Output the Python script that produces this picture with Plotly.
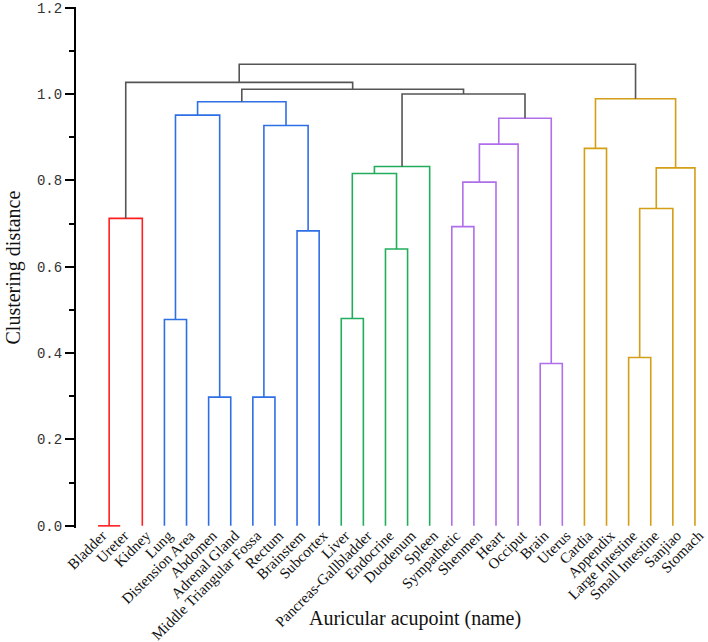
import plotly.graph_objects as go

leaves = ["Bladder", "Ureter", "Kidney", "Lung", "Distension Area", "Abdomen",
          "Adrenal Gland", "Middle Triangular Fossa", "Rectum", "Brainstem",
          "Subcortex", "Liver", "Pancreas-Gallbladder", "Endocrine", "Duodenum",
          "Spleen", "Sympathetic", "Shenmen", "Heart", "Occiput", "Brain", "Uterus",
          "Cardia", "Appendix", "Large Intestine", "Small Intestine", "Sanjiao",
          "Stomach"]

# merges: (left node, right node, height, cluster colour key); new node ids start at 28
merge_left = [0, 28, 3, 5, 7, 9, 30, 32, 34, 11, 13, 37, 39, 16, 41, 42, 20, 43,
              22, 24, 47, 48, 46, 40, 36, 29, 53]
merge_right = [1, 2, 4, 6, 8, 10, 31, 33, 35, 12, 14, 38, 15, 17, 18, 19, 21, 44,
               23, 25, 26, 27, 49, 45, 51, 52, 50]
merge_height = [0.000, 0.712, 0.478, 0.298, 0.298, 0.683, 0.951, 0.927, 0.982,
                0.480, 0.641, 0.816, 0.832, 0.693, 0.796, 0.884, 0.376, 0.944,
                0.874, 0.390, 0.735, 0.829, 0.989, 1.000, 1.011, 1.027, 1.069]
merge_group = ["red", "red", "blue", "blue", "blue", "blue", "blue", "blue", "blue",
               "green", "green", "green", "green", "purple", "purple", "purple",
               "purple", "purple", "gold", "gold", "gold", "gold", "gold",
               "gray", "gray", "gray", "gray"]

y_ticks = [0.0, 0.2, 0.4, 0.6, 0.8, 1.0, 1.2]
y_minor = [0.1, 0.3, 0.5, 0.7, 0.9, 1.1]

colors = {"red": "#FF1F1F", "blue": "#2F6FE6", "green": "#22AD5C",
          "purple": "#B06EEA", "gold": "#D49E16", "gray": "#555555"}

pos = {i: float(i) for i in range(len(leaves))}
hgt = {i: 0.0 for i in range(len(leaves))}

segs = {k: ([], []) for k in colors}
n = len(leaves)
for k, (a, b, h, g) in enumerate(zip(merge_left, merge_right, merge_height, merge_group)):
    xs, ys = segs[g]
    xs += [pos[a], pos[a], pos[b], pos[b], None]
    ys += [hgt[a], h, h, hgt[b], None]
    pos[n + k] = (pos[a] + pos[b]) / 2
    hgt[n + k] = h

fig = go.Figure()
for g, (xs, ys) in segs.items():
    fig.add_trace(go.Scatter(x=xs, y=ys, mode="lines",
                             line=dict(color=colors[g], width=1.6),
                             hoverinfo="skip", showlegend=False))

W, H = 708, 642
L, R, T, B = 76, 2, 7, 114
fig.update_layout(
    width=W, height=H,
    margin=dict(l=L, r=R, t=T, b=B),
    plot_bgcolor="white", paper_bgcolor="white",
    showlegend=False,
)
fig.update_xaxes(
    range=[-1, 27.5], showgrid=False, zeroline=False, showline=False,
    automargin=False,
    tickmode="array", tickvals=list(range(n)), ticktext=leaves,
    tickangle=-45, ticks="", ticklabelstandoff=-5, ticklabelshift=4,
    tickfont=dict(family="Liberation Serif", size=15, color="#111111"),
)
fig.update_yaxes(
    range=[-0.005, 1.2015], showgrid=False, zeroline=False,
    showline=True, linecolor="black", linewidth=2, automargin=False,
    ticks="outside", ticklen=9, tickwidth=2, tickcolor="black",
    tickvals=y_ticks, ticktext=[f"{v:.1f}" for v in y_ticks],
    tickfont=dict(family="Liberation Mono", size=14, color="#333333"),
    minor=dict(tickvals=y_minor, ticks="outside",
               ticklen=5, tickwidth=2, tickcolor="black"),
)

pw = W - L - R
ph = H - T - B
fig.add_annotation(text="Auricular acupoint (name)", xref="paper", yref="paper",
                   x=(415 - L) / pw, y=(T + ph - 618) / ph, xanchor="center",
                   yanchor="middle", showarrow=False,
                   font=dict(family="Liberation Serif", size=20, color="#111111"))
fig.add_annotation(text="Clustering distance", xref="paper", yref="paper",
                   x=(13 - L) / pw, y=0.5, xanchor="center", yanchor="middle",
                   textangle=-90, showarrow=False,
                   font=dict(family="Liberation Serif", size=20, color="#111111"))

fig.write_html("out.html")
